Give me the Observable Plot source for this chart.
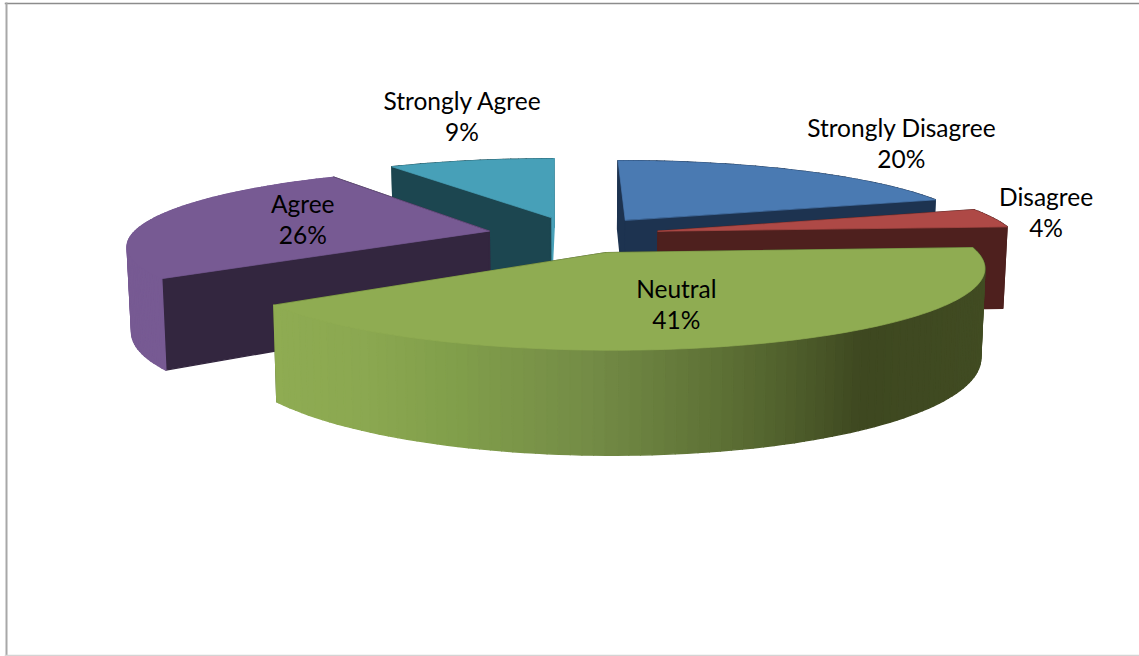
<!DOCTYPE html>
<html>
<head>
<meta charset="utf-8">
<title>Survey responses</title>
<style>
  html, body { margin: 0; padding: 0; background: #fff; }
  svg { display: block; }
</style>
<script src="https://cdn.jsdelivr.net/npm/d3@7"></script>
<script src="https://cdn.jsdelivr.net/npm/@observablehq/plot@0.6"></script>
</head>
<body>
<div id="chart"></div>
<script>
// Survey answers, clockwise from twelve o'clock
const categories = ["Strongly Disagree", "Disagree", "Neutral", "Agree", "Strongly Agree"];
const shares = [20, 4, 41, 26, 9];

// Surface colours of each slice
const topColors = ["#4a7ab2", "#ae4946", "#8fac52", "#775a93", "#47a0b8"];
const startWallColors = ["#1d3350", "#4e201e", "#4a5a2a", "#33263f", "#1c4650"];
const endWallColors = ["#1d3350", "#4e201e", "#4a5a2a", "#33263f", "#47a0b8"];
const rimColors = ["#1d3350", "#4e201e", null, "#775a93", "#1c4650"];

// Lit-to-shaded ramp along the rim of the Neutral slice (degrees clockwise from the top)
const neutralRimAngles = [234, 215, 202, 183, 165, 145, 86];
const neutralRimShades = ["#8fac52", "#8ba851", "#82a04b", "#748c46", "#5c6f34", "#3e4820", "#434e24"];

// How far each slice is pulled from the centre, in units of the pie radius
const explodeBy = [0.25, 0.24, 0.25, 0.245, 0.25];

// Slices painted from the farthest to the nearest
const paintOrder = ["Strongly Agree", "Strongly Disagree", "Agree", "Disagree", "Neutral"];

// Label anchors on the pie's own plane, in units of the pie radius
const labelPlaneX = [1.16, 1.395, 0.246, -0.791, -0.434];
const labelPlaneY = [1.57, 0.33, -0.81, 0.23, 2.22];

// Perspective view of the tilted pie
const view = {cx: 574, cy: 234, rx: 357, ry: 74, depth: 0.17, thickness: 83, taper: 0.99};

function project(X, Y, lowered = false) {
  const s = 1 / (1 + view.depth * Y);
  const x = view.cx + view.rx * X * s;
  const y = view.cy - view.ry * Y * s;
  return lowered
    ? {x: view.cx + (x - view.cx) * view.taper, y: y + view.thickness * s}
    : {x, y};
}

const rad = (d) => (d * Math.PI) / 180;
const deg = (r) => (r * 180) / Math.PI;
const neutralRim = d3.scaleLinear().domain(neutralRimAngles).range(neutralRimShades).interpolate(d3.interpolateRgb);

const arcs = d3.pie().sort(null).value((d) => d)(shares);
const stepDeg = 1.5;

// Turn one slice into vertex lists: its side walls and its top surface
function sliceGeometry(i) {
  const arc = arcs[i];
  const mid = (arc.startAngle + arc.endAngle) / 2;
  const ox = explodeBy[i] * Math.sin(mid);
  const oy = explodeBy[i] * Math.cos(mid);
  const rimPoint = (a) => [ox + Math.sin(a), oy + Math.cos(a)];
  const wall = (A, B) => [
    project(A[0], A[1]), project(B[0], B[1]),
    project(B[0], B[1], true), project(A[0], A[1], true)
  ];
  const apex = [ox, oy];
  const faces = [];

  const startRim = rimPoint(arc.startAngle);
  const endRim = rimPoint(arc.endAngle);
  faces.push({depth: (apex[1] + startRim[1]) / 2, points: wall(apex, startRim), color: startWallColors[i]});
  faces.push({depth: (apex[1] + endRim[1]) / 2, points: wall(apex, endRim), color: endWallColors[i]});

  const from = deg(arc.startAngle);
  const to = deg(arc.endAngle);
  for (let a = from; a < to; a += stepDeg) {
    const b = Math.min(a + stepDeg, to);
    const A = rimPoint(rad(a));
    const B = rimPoint(rad(b));
    const color = rimColors[i] ?? d3.color(neutralRim((a + b) / 2)).formatHex();
    faces.push({depth: (A[1] + B[1]) / 2, points: wall(A, B), color});
  }
  faces.sort((p, q) => q.depth - p.depth);

  const walls = faces.flatMap((f, id) => f.points.map((p) => ({...p, face: id, color: f.color})));

  const outline = [project(apex[0], apex[1])];
  for (let a = from; a < to; a += 1) {
    const P = rimPoint(rad(a));
    outline.push(project(P[0], P[1]));
  }
  outline.push(project(endRim[0], endRim[1]));
  const top = outline.map((p) => ({...p, face: 0, color: topColors[i]}));

  return {walls, top};
}

const sliceMarks = paintOrder.flatMap((name) => {
  const {walls, top} = sliceGeometry(categories.indexOf(name));
  const faceStyle = {x: "x", y: "y", z: "face", fill: "color", stroke: "color", curve: "linear-closed"};
  return [
    Plot.line(walls, {...faceStyle, strokeWidth: 1.4}),
    Plot.line(top, {...faceStyle, strokeWidth: 0.7})
  ];
});

const labels = categories.map((name, i) => ({
  ...project(labelPlaneX[i], labelPlaneY[i]),
  text: `${name}\n${shares[i]}%`
}));

const chart = Plot.plot({
  width: 1139,
  height: 656,
  margin: 0,
  x: {domain: [0, 1139], range: [0, 1139], axis: null},
  y: {domain: [0, 656], range: [0, 656], axis: null},
  color: {type: "identity"},
  marks: [
    ...sliceMarks,
    Plot.text(labels, {
      x: "x", y: "y", text: "text",
      fontFamily: "Lato", fontSize: 24.5, fill: "#000", lineHeight: 1.265
    }),
    // Chart area border
    Plot.frame({anchor: "top", insetTop: 3, stroke: "#8c8c8c", strokeWidth: 1.5, insetLeft: 5}),
    Plot.frame({anchor: "left", insetLeft: 6, stroke: "#a8a8a8", strokeWidth: 2, insetTop: 3}),
    Plot.frame({anchor: "bottom", insetBottom: 1, stroke: "#d4d4d4", strokeWidth: 1.5, insetLeft: 5})
  ]
});
document.getElementById("chart").append(chart);
</script>
</body>
</html>
